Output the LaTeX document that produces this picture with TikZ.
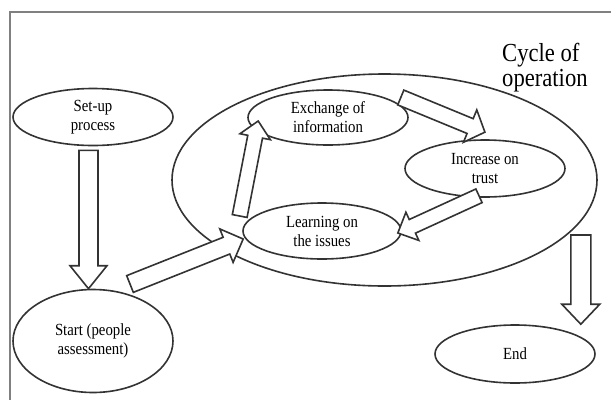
\documentclass[tikz,border=0pt]{standalone}
\usepackage{fontspec}
\setmainfont{Liberation Serif}[FakeStretch=0.87]
\usepackage{tikz}
\usetikzlibrary{shapes.geometric}
\usetikzlibrary{calc}
\tikzset{
    oval_node/.style = {ellipse, align=center, inner sep=0pt, text centered, draw=black!80, line width=1.6pt, fill=white, font=\fontsize{17}{19}\selectfont},
    big_node/.style = {oval_node, minimum width=425pt, minimum height=212pt},
    title_node/.style = {align=left, inner sep=0pt, font=\fontsize{26}{25}\selectfont},
    block_arrow/.style = {draw=black!80, line width=1.6pt, fill=white, line join=miter},
    frame_line/.style = {draw=black!50, line width=1.5pt}
}
% #1 tail, #2 tip, #3 half shaft, #4 half head, #5 head length
\newcommand{\blockarrow}[5]{%
    \draw[block_arrow] let \p1=($(#2)-(#1)$), \n1={atan2(\y1,\x1)}, \n2={veclen(\x1,\y1)} in
        [shift={(#1)}, rotate=\n1]
        (0pt,-#3pt) -- (\n2-#5pt,-#3pt) -- (\n2-#5pt,-#4pt) -- (\n2,0pt)
        -- (\n2-#5pt,#4pt) -- (\n2-#5pt,#3pt) -- (0pt,#3pt) -- cycle;}

\begin{document}
\begin{tikzpicture}[x=1pt, y=-1pt]
    \useasboundingbox (0,0) rectangle (611,400);
    \draw[frame_line] (611,12) -- (10,12) -- (10,400);

    \node [big_node] (cycle) at (384.5,180) {};
    \node [title_node, anchor=north west] (cycle_label) at (502,43) {Cycle of\\operation};

    \node [oval_node, minimum width=160pt, minimum height=57pt] (setup) at (93,117) {Set-up\\process};
    \node [oval_node, minimum width=160pt, minimum height=103pt] (start) at (93,341) {Start (people\\assessment)};
    \node [oval_node, minimum width=160pt, minimum height=55pt] (exch) at (328,117.5) {Exchange of\\information};
    \node [oval_node, minimum width=160pt, minimum height=57pt] (incr) at (485,168.5) {Increase on\\trust};
    \node [oval_node, minimum width=158pt, minimum height=56pt] (learn) at (322,231) {Learning on\\the issues};
    \node [oval_node, minimum width=160pt, minimum height=58pt] (finish) at (515,354) {End};

    \coordinate (a1) at ([shift={(-4.5,4)}]setup.south);
    \coordinate (b1) at ([xshift=-4.5pt]start.north);
    \coordinate (a2) at ([shift={(37,-57)}]start.center);
    \coordinate (b2) at ([shift={(1,8)}]learn.west);
    \coordinate (a3) at ([shift={(-2.5,-15)}]learn.west);
    \coordinate (b3) at ([shift={(11,3.5)}]exch.west);
    \coordinate (a4) at ([shift={(-8,-20)}]exch.east);
    \coordinate (b4) at ([shift={(0,-7)}]incr.north);
    \coordinate (a5) at ([shift={(-6,-2)}]incr.south);
    \coordinate (b5) at ([shift={(-4,2)}]learn.east);
    \coordinate (a6) at ([shift={(-17,55)}]cycle.east);
    \coordinate (b6) at (a6 |- finish.north);

    \blockarrow{a1}{b1}{9.5}{18.5}{23}
    \blockarrow{a2}{b2}{9}{18}{18}
    \blockarrow{a3}{b3}{7.5}{15.5}{16}
    \blockarrow{a4}{b4}{8}{17.5}{16}
    \blockarrow{a5}{b5}{7.5}{15.5}{16}
    \blockarrow{a6}{b6}{10}{19}{20}
\end{tikzpicture}
\end{document}
